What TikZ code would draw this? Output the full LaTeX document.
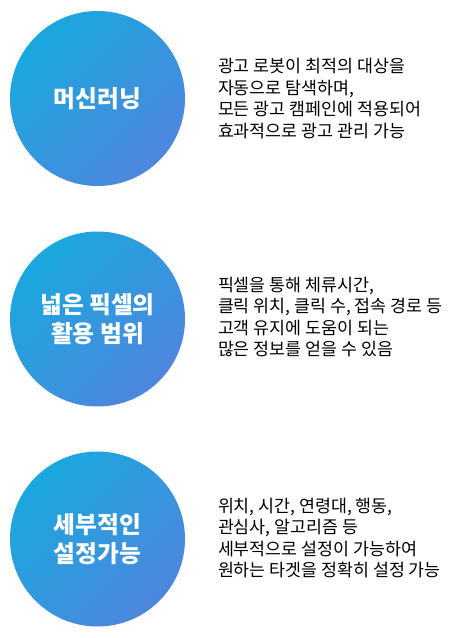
\documentclass[tikz,border=0pt]{standalone}
\usepackage{fontspec}
\setmainfont{Noto Sans CJK KR}
\definecolor{topblue}{RGB}{26,168,222}
\definecolor{lowblue}{RGB}{78,134,222}
\begin{document}
\begin{tikzpicture}[x={(0.75pt,0pt)},y={(0pt,-0.75pt)},every node/.style={outer sep=0pt, inner sep=0pt},
  bubble/.style={circle, minimum size=131.25pt, top color=topblue, bottom color=lowblue, shading angle=45,
    text=white, font=\fontsize{17.8pt}{21.3pt}\selectfont\bfseries, align=center},
  note/.style={anchor=west, align=left, font=\fontsize{13pt}{16.2pt}\selectfont}]
\useasboundingbox (0,0) rectangle (454,638);
\node[bubble] (learn) at (97.5,98.5) {머신러닝};
\node[bubble] (pixel) at (97.5,319) {넓은 픽셀의\\활용 범위};
\node[bubble] (setup) at (97.5,539) {세부적인\\설정가능};
\node[note] (learntxt) at (218,98.5) {광고 로봇이 최적의 대상을\\자동으로 탐색하며,\\모든 광고 캠페인에 적용되어\\효과적으로 광고 관리 가능};
\node[note] (pixeltxt) at (218,317) {픽셀을 통해 체류시간,\\클릭 위치, 클릭 수, 접속 경로 등\\고객 유지에 도움이 되는\\많은 정보를 얻을 수 있음};
\node[note] (setuptxt) at (218,538) {위치, 시간, 연령대, 행동,\\관심사, 알고리즘 등\\세부적으로 설정이 가능하여\\원하는 타겟을 정확히 설정 가능};
\end{tikzpicture}
\end{document}
